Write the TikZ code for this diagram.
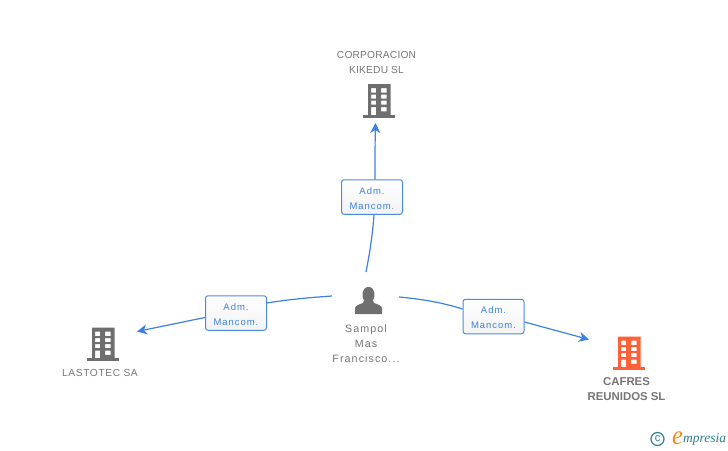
\documentclass[tikz,border=0pt]{standalone}
\usepackage{fontspec}
\setmainfont{Liberation Sans}
\newfontfamily\spaced[LetterSpace=2]{Liberation Sans}
\newfontfamily\spacedwide[LetterSpace=6]{Liberation Sans}
\newfontfamily\lblfont[LetterSpace=10]{Liberation Sans}
\newfontfamily\logofont{Liberation Serif}
\usetikzlibrary{arrows.meta}
\definecolor{linkblue}{HTML}{3C82E0}
\definecolor{boxblue}{HTML}{4A8BE2}
\definecolor{icongray}{HTML}{6F6F6F}
\definecolor{textgray}{HTML}{767676}
\definecolor{orangered}{HTML}{FF6035}
\definecolor{logoteal}{HTML}{2F7F94}
\definecolor{logoorange}{HTML}{F08A1D}
\newcommand{\lowerstrut}{\rule{0pt}{10pt}}
\tikzset{
  x=1pt,y=-1pt,
  role/.style={draw=boxblue,line width=1pt,rounded corners=2.5pt,top color=white,bottom color=white!95!black,
    minimum width=61pt,minimum height=34.5pt,inner sep=0pt,align=center,text=linkblue,
    font=\lblfont\fontsize{9.5}{15}\selectfont},
  link/.style={draw=linkblue,line width=1.2pt},
  linkend/.style={link,-{Stealth[length=10pt,width=10pt,inset=3pt]}},
  caption/.style={align=center,text=textgray,inner sep=0pt,font=\spaced\fontsize{10.2}{15}\selectfont},
  widecaption/.style={align=center,text=textgray,inner sep=0pt,font=\spacedwide\fontsize{10.2}{15}\selectfont},
  boldcaption/.style={align=center,text=textgray,inner sep=0pt,font=\bfseries\fontsize{11.4}{15}\selectfont},
  personcap/.style={align=center,text=textgray,inner sep=0pt,font=\lblfont\fontsize{10.7}{15}\selectfont},
  pics/building/.style={code={
    \fill[#1,even odd rule] (-11,-16.5) rectangle (11.5,14.5)
      (-8,-12.5) rectangle (-2.8,-8) (2.2,-12.5) rectangle (7.5,-8)
      (-8,-6) rectangle (-2.8,-1.8) (2.2,-6) rectangle (7.5,-1.8)
      (-8,0) rectangle (-2.8,4.2) (2.2,0) rectangle (7.5,4.2)
      (-8,6.5) rectangle (-2.8,14.5) (2.2,6.5) rectangle (7.5,10.8);
    \fill[#1] (-16,14.3) rectangle (16,17.2);
  }},
}
\begin{document}
\begin{tikzpicture}
\useasboundingbox (0,0) rectangle (728,450);
\fill[white] (0,0) rectangle (728,450);

% icons and captions
\pic at (379,100.5) {building=icongray};
\pic at (103,344) {building=icongray};
\pic at (629,353) {building=orangered};
\node[caption] (corp) at (376.5,62.5) {CORPORACION\\KIKEDU SL};
\node[widecaption] (lasto) at (100,373) {LASTOTEC SA};
\node[boldcaption] (cafres) at (626.5,389) {CAFRES\\REUNIDOS SL};
\node[personcap] (sampol) at (366,344) {Sampol\\Mas\\Francisco...};

% person
\fill[icongray] (355,314) -- (355,308.5) .. controls (355,305.5) and (359,304.5) .. (363,303)
  -- (364,300.5) .. controls (361.5,297) and (361.5,287) .. (368.5,287)
  .. controls (375.5,287) and (375.5,297) .. (373,300.5) -- (374,303)
  .. controls (378,304.5) and (382,305.5) .. (382,308.5) -- (382,314) -- cycle;

% label boxes
\node[role] (boxtop) at (372,197) {\lowerstrut Adm.\\Mancom.};
\node[role] (boxleft) at (236,313) {\lowerstrut Adm.\\Mancom.};
\node[role] (boxright) at (493.5,316.5) {\lowerstrut Adm.\\Mancom.};

% free ends of connectors
\coordinate (ptop) at (366,272);
\coordinate (pleft) at (332,296);
\coordinate (pright) at (399,297);
\coordinate (endtop) at (375.5,123);
\coordinate (endleft) at (137,331.5);
\coordinate (endright) at (589,339.5);

% connectors
\draw[link] (ptop) .. controls (369.5,254) and (372.5,236) .. ([xshift=2pt]boxtop.south);
\draw[linkend] ([xshift=3pt]boxtop.north) .. controls (375,160) and (375,145) .. (endtop);
\draw[link] (pleft) .. controls (310,297.5) and (288,299.5) .. ([yshift=10pt]boxleft.east);
\draw[linkend] ([yshift=-4.5pt]boxleft.west) -- (endleft);
\draw[link] (pright) .. controls (422,299) and (444,303) .. ([yshift=7.5pt]boxright.west);
\draw[linkend] ([yshift=-5.5pt]boxright.east) -- (endright);

% logo
\node[circle,draw=logoteal,line width=1.2pt,inner sep=0pt,minimum size=13pt,text=logoteal,font=\fontsize{11}{11}\selectfont] (copy) at (657.5,439) {c};
\node[inner sep=0pt,xscale=0.9,text=logoorange,font=\logofont\itshape\fontsize{27}{27}\selectfont] (loge) at (677.5,438) {e};
\node[anchor=west,inner sep=0pt,text=logoteal,font=\logofont\itshape\fontsize{13.5}{14}\selectfont] (logw) at (683,439.5) {mpresia};
\end{tikzpicture}
\end{document}
